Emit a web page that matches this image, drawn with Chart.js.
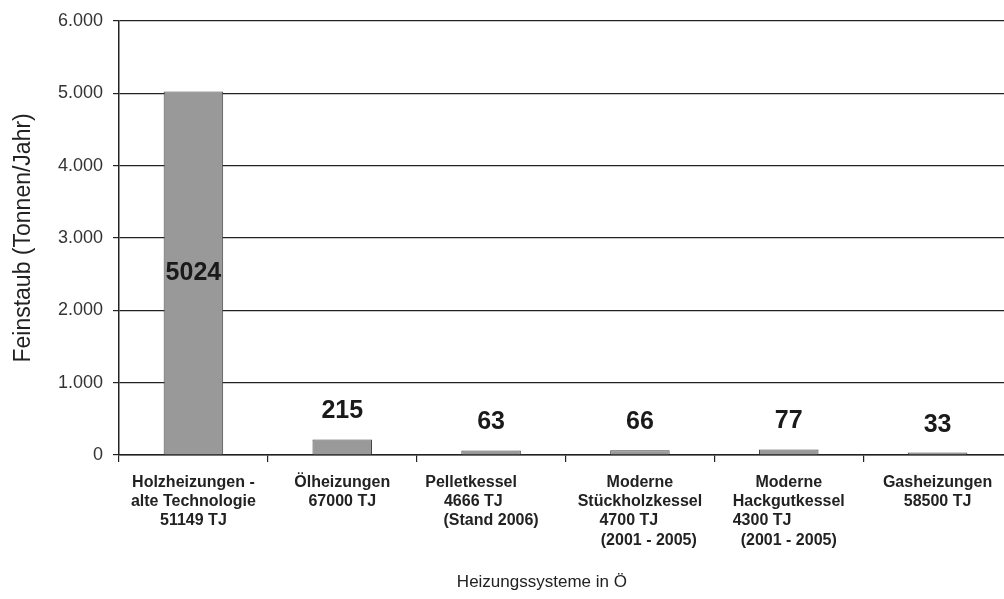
<!DOCTYPE html>
<html>
<head>
<meta charset="utf-8">
<script src="https://cdn.jsdelivr.net/npm/chart.js@4"></script>
<style>
    html, body { margin: 0; padding: 0; background: #fff; overflow: hidden; }
    .chart-box { width: 1014px; height: 599px; position: relative; }
</style>
</head>
<body>
<div class="chart-box">
    <canvas id="dustChart"></canvas>
</div>
<script>
// Heating systems (labels split into lines, spaces keep the original indents)
const categories = [
    ['Holzheizungen -', 'alte Technologie', '51149 TJ'],
    ['Ölheizungen', '67000 TJ'],
    ['Pelletkessel         ', '4666 TJ        ', '(Stand 2006)'],
    ['Moderne', 'Stückholzkessel', '4700 TJ     ', '    (2001 - 2005)'],
    ['Moderne', 'Hackgutkessel', '4300 TJ            ', '(2001 - 2005)'],
    ['Gasheizungen', '58500 TJ']
];

// Fine dust emissions in tonnes per year
const emissions = [5024, 215, 63, 66, 77, 33];

const yTicks = [0, 1000, 2000, 3000, 4000, 5000, 6000];

const fontFamily = '"Liberation Sans", Arial, Helvetica, sans-serif';

// writes the value on each bar: inside the tall one, above the small ones
const valueLabels = {
    id: 'valueLabels',
    afterDatasetsDraw(chart) {
        const ctx = chart.ctx;
        const bars = chart.getDatasetMeta(0).data;
        ctx.save();
        ctx.font = 'bold 25px ' + fontFamily;
        ctx.fillStyle = '#1a1a1a';
        ctx.textAlign = 'center';
        ctx.textBaseline = 'middle';
        bars.forEach((bar, i) => {
            const v = emissions[i];
            let y = bar.y - 28;
            if (v > 1000) y = (bar.y + bar.base) / 2;
            ctx.fillText(String(v), bar.x, y);
        });
        ctx.restore();
    }
};

const ctx = document.getElementById('dustChart');

new Chart(ctx, {
    type: 'bar',
    data: {
        labels: categories,
        datasets: [{
            data: emissions,
            backgroundColor: '#999999',
            borderColor: '#444444',
            borderWidth: 1,
            categoryPercentage: 1,
            barPercentage: 0.4
        }]
    },
    options: {
        responsive: true,
        maintainAspectRatio: false,
        animation: false,
        layout: {
            padding: { top: 19, right: 2, left: 0, bottom: 0 }
        },
        plugins: {
            legend: { display: false },
            tooltip: { enabled: false }
        },
        scales: {
            x: {
                afterFit(scale) { scale.height = 144; },
                border: { display: true, color: '#222', width: 1.5 },
                grid: {
                    offset: true,
                    drawOnChartArea: false,
                    drawTicks: true,
                    tickLength: 7,
                    color: '#222',
                    lineWidth: 1.2
                },
                ticks: {
                    color: '#222',
                    padding: 11,
                    maxRotation: 0,
                    autoSkip: false,
                    font: { family: fontFamily, size: 16, weight: 'bold', lineHeight: 1.2 }
                },
                title: {
                    display: true,
                    text: 'Heizungssysteme in Ö          ',
                    color: '#222',
                    padding: { top: 0, bottom: 6 },
                    font: { family: fontFamily, size: 17 }
                }
            },
            y: {
                min: 0,
                max: 6000,
                afterFit(scale) { scale.width = 119; },
                afterBuildTicks(scale) {
                    scale.ticks = yTicks.map(v => ({ value: v }));
                },
                border: { display: true, color: '#222', width: 1.5 },
                grid: {
                    color: '#222',
                    lineWidth: 1.2,
                    drawTicks: true,
                    tickLength: 6
                },
                ticks: {
                    color: '#333',
                    padding: 10,
                    font: { family: fontFamily, size: 18 },
                    callback: v => v.toLocaleString('de-DE')
                },
                title: {
                    display: true,
                    text: 'Feinstaub (Tonnen/Jahr)',
                    color: '#222',
                    padding: { top: 10, bottom: 0 },
                    font: { family: fontFamily, size: 23 }
                }
            }
        }
    },
    plugins: [valueLabels]
});
</script>
</body>
</html>
